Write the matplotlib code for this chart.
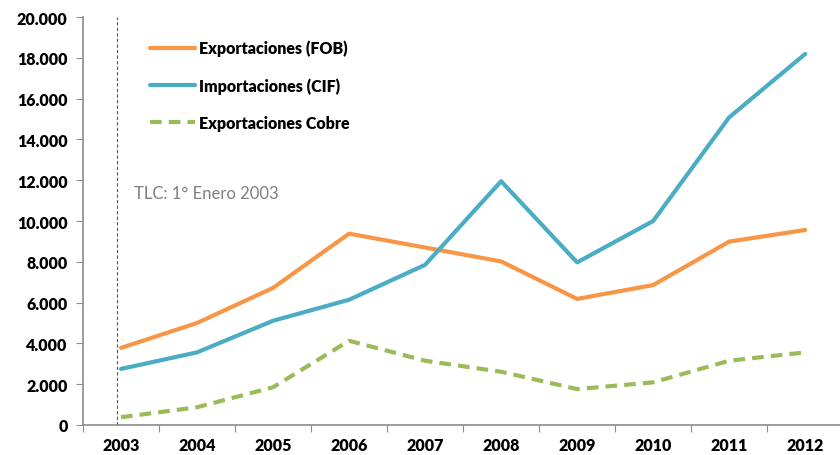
import matplotlib.pyplot as plt
from matplotlib.ticker import FuncFormatter, FixedLocator

years = ['2003', '2004', '2005', '2006', '2007', '2008', '2009', '2010', '2011', '2012']
export_fob = [3780, 5000, 6720, 9380, 8700, 8020, 6180, 6860, 8990, 9560]
import_cif = [2750, 3560, 5110, 6140, 7850, 11950, 7970, 10000, 15080, 18190]
export_cobre = [380, 870, 1850, 4130, 3150, 2610, 1760, 2090, 3150, 3560]

plt.rcParams['font.family'] = ['Lato', 'DejaVu Sans']

fig = plt.figure(figsize=(8.4, 4.56), dpi=100)
ax = fig.add_axes([0.0988, 0.0658, 0.905, 0.8947])

x = list(range(len(years)))
ax.plot(x, export_fob, color='#F79646', lw=3, label='Exportaciones (FOB)', solid_capstyle='round')
ax.plot(x, import_cif, color='#4BACC6', lw=3, label='Importaciones (CIF)', solid_capstyle='round')
ax.plot(x, export_cobre, color='#9BBB59', lw=3, ls=(0, (2.8, 1.7)), label='Exportaciones Cobre')

# start of the free trade agreement
ax.axvline(-0.05, color='#555555', lw=0.8, ls=(0, (3, 2)))
ax.text(0.17, 11350, 'TLC: 1° Enero 2003', color='#7F7F7F', fontsize=12, va='center')

ax.set_xlim(-0.5, 9.5)
ax.set_ylim(0, 20000)
ax.set_yticks(range(0, 20001, 2000))
ax.yaxis.set_major_formatter(FuncFormatter(lambda v, p: f'{int(v):,}'.replace(',', '.')))

ax.xaxis.set_major_locator(FixedLocator([i - 0.5 for i in range(len(years) + 1)]))
ax.xaxis.set_major_formatter(FuncFormatter(lambda v, p: ''))
ax.xaxis.set_minor_locator(FixedLocator(x))
ax.set_xticklabels(years, minor=True)

for s in ['top', 'right']:
    ax.spines[s].set_visible(False)
for s in ['left', 'bottom']:
    ax.spines[s].set_color('#8C8C8C')
    ax.spines[s].set_linewidth(1.2)

ax.tick_params(axis='y', which='major', length=5, color='#8C8C8C', labelsize=11.5, pad=6)
ax.tick_params(axis='x', which='major', length=5, color='#8C8C8C')
ax.tick_params(axis='x', which='minor', length=0, labelsize=11.5, pad=9)
for lbl in ax.get_yticklabels() + ax.get_xticklabels(minor=True):
    lbl.set_fontweight('heavy')

leg = ax.legend(loc='upper left', bbox_to_anchor=(0.088, 0.944), frameon=False,
                handlelength=2.8, handletextpad=0.3, labelspacing=1.3,
                borderaxespad=0, borderpad=0, prop={'weight': 'heavy', 'size': 11.5})

fig.savefig('out.png', dpi=100)
